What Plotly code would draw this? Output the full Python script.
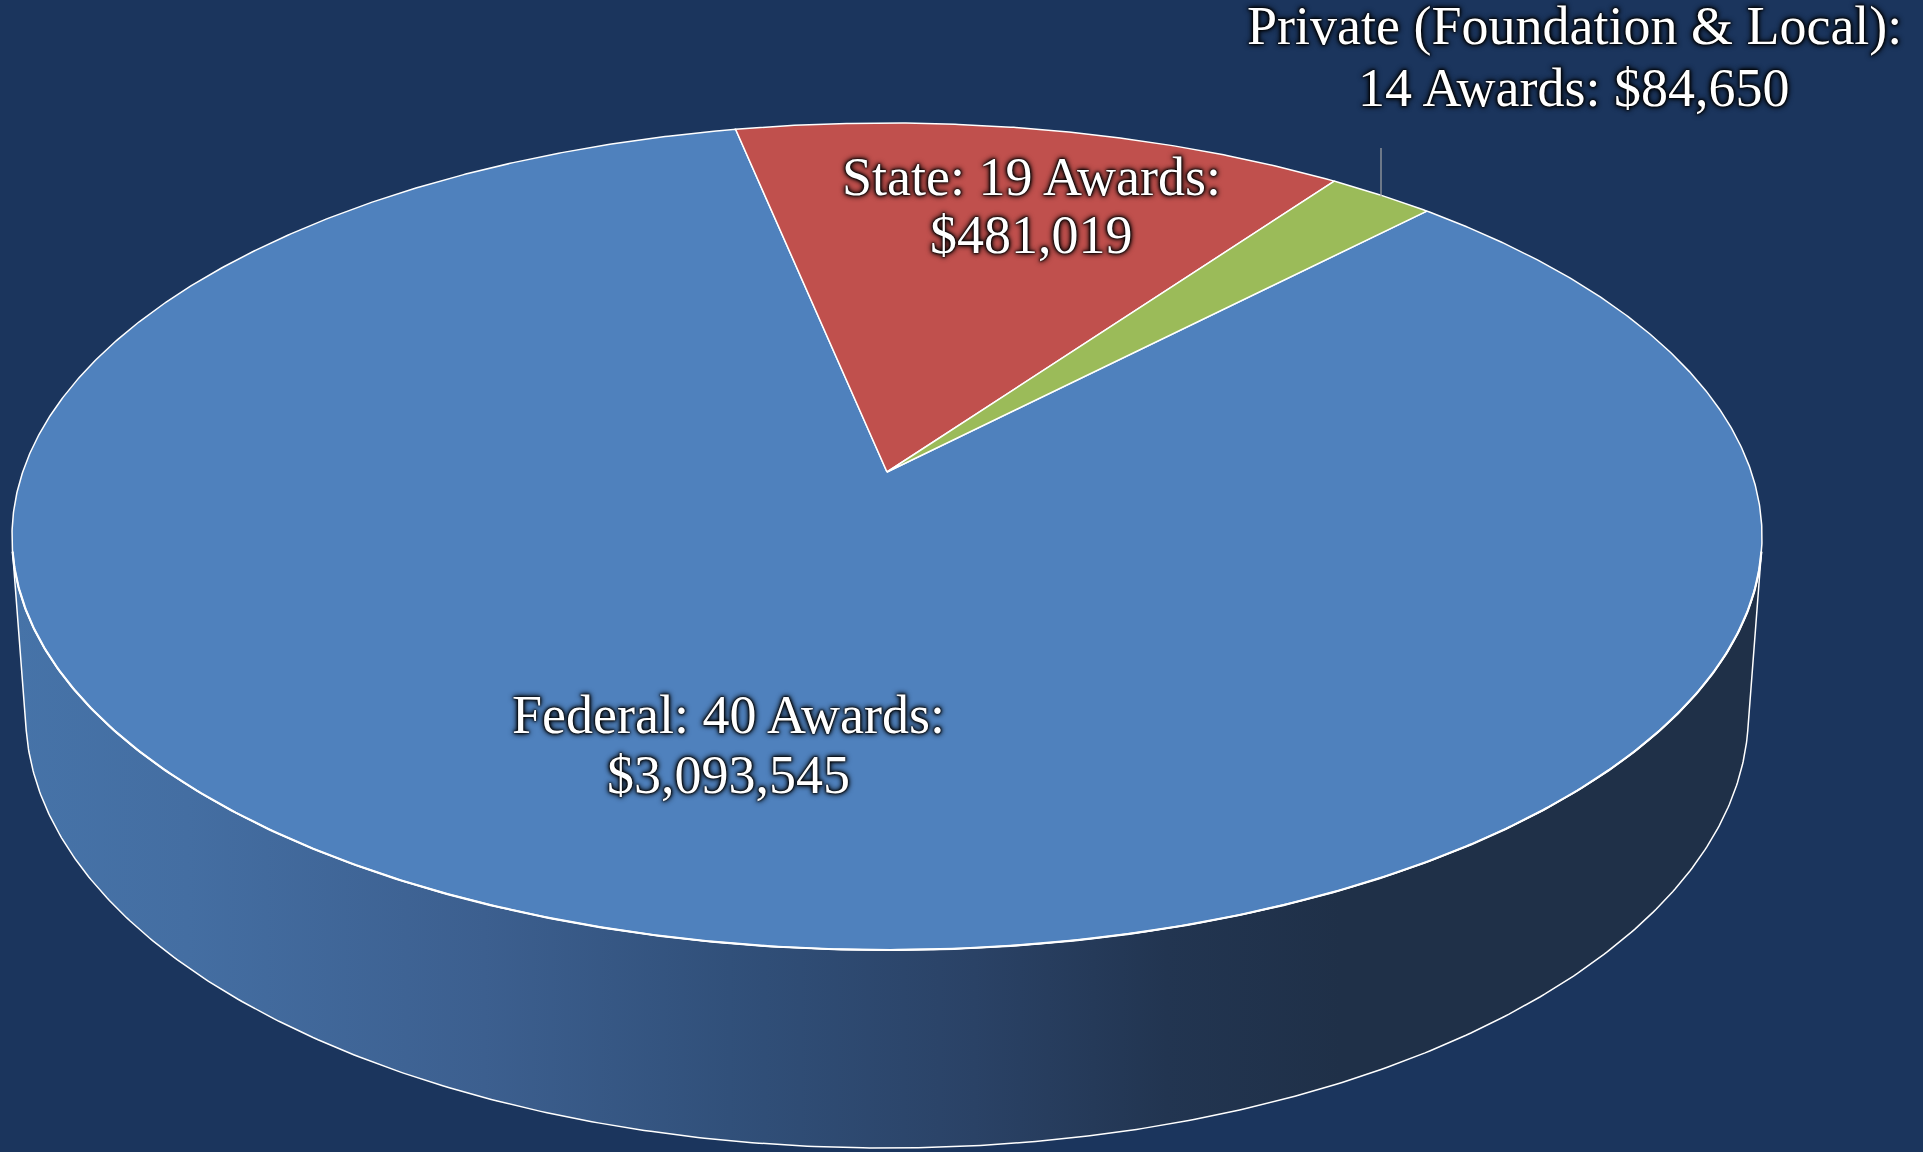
import numpy as np
import plotly.graph_objects as go

# data
names = ["Federal", "State", "Private (Foundation & Local)"]
awards = [40, 19, 14]
amounts = [3093545, 481019, 84650]
colors = ["#4f81bd", "#c0504d", "#9bbb59"]
first_slice_angle = 44  # degrees, clockwise from the back of the pie

# page / projection of the tilted pie (pixels of the 1923x1152 page)
W, H = 1923, 1152
cx, cy = 887, 472          # centre of the top face
A, B, k = 864.3, 329.8, -0.156
t, vy = 0.0154, 12000      # wall depth and vertical vanishing point
bg = "#1b355d"


def top(beta):
    u, v = np.sin(beta), -np.cos(beta)
    w = 1 + k * v
    return cx + A * u / w, (B * v + cy) / w


def bottom(beta):
    u, v = np.sin(beta), -np.cos(beta)
    w = 1 + k * v + t
    return cx + A * u / w, (B * v + cy + t * vy) / w


# silhouette of the side wall
b = np.linspace(0, 2 * np.pi, 7201)
xt, yt = top(b)
xb, yb = bottom(b)
s = np.gradient(xt) * (yb - yt) - np.gradient(yt) * (xb - xt)
vis = b[s < 0]
b_right, b_left = vis.min(), vis.max()

fig = go.Figure()

# side wall with horizontal shading
bw = np.linspace(b_right, b_left, 400)
wx_t, wy_t = top(bw)
wx_b, wy_b = bottom(bw[::-1])
fig.add_trace(go.Scatter(
    x=np.concatenate([wx_t, wx_b, wx_t[:1]]),
    y=np.concatenate([wy_t, wy_b, wy_t[:1]]),
    mode="lines", fill="toself",
    line=dict(color="white", width=1.5),
    fillgradient=dict(type="horizontal", colorscale=[
        [0.0, "#4673a8"], [0.10, "#446ea2"], [0.27, "#3c5f8f"],
        [0.41, "#31507a"], [0.55, "#2a4266"], [0.66, "#223551"],
        [0.76, "#1f3048"], [1.0, "#1f3048"]]),
    hoverinfo="skip"))

# top face slices
frac = np.array(amounts) / sum(amounts)
start = np.deg2rad(first_slice_angle)
for i, f in enumerate(frac):
    end = start + f * 2 * np.pi
    bs = np.linspace(start, end, max(int(f * 1440), 4))
    sx, sy = top(bs)
    fig.add_trace(go.Scatter(
        x=np.concatenate([[cx], sx, [cx]]),
        y=np.concatenate([[cy], sy, [cy]]),
        mode="lines", fill="toself", fillcolor=colors[i],
        line=dict(color="white", width=1.5),
        name=names[i], hoverinfo="skip"))
    start = end

# brighter rim on the front edge of the top face
fx, fy = top(bw)
fig.add_trace(go.Scatter(x=fx, y=fy, mode="lines",
                         line=dict(color="white", width=2.2), hoverinfo="skip"))

# labels
label_lines = [
    [f"{names[0]}: {awards[0]} Awards:", f"${amounts[0]:,}"],
    [f"{names[1]}: {awards[1]} Awards:", f"${amounts[1]:,}"],
    [f"{names[2]}:", f"{awards[2]} Awards: ${amounts[2]:,}"],
]
label_pos = [(728, 715, 775), (1031, 177, 235), (1574, 26, 88)]
lab_font = dict(family="Liberation Serif, Times New Roman, serif", size=54,
                color="white",
                shadow="0px 0px 6px #000000, 0px 0px 5px #000000, "
                       "0px 0px 3px #000000, 0px 0px 2px #000000")
for lines, (lx, ly1, ly2) in zip(label_lines, label_pos):
    for txt, ly in zip(lines, (ly1, ly2)):
        fig.add_annotation(x=lx, y=ly, text=txt, showarrow=False,
                           xanchor="center", yanchor="middle", font=lab_font)

# leader line for the small slice
fig.add_shape(type="line", x0=1381, x1=1381, y0=148, y1=197,
              line=dict(color="#a6a6a6", width=1.2))

fig.update_layout(
    width=W, height=H, margin=dict(l=0, r=0, t=0, b=0),
    paper_bgcolor=bg, plot_bgcolor=bg, showlegend=False, hovermode=False,
    xaxis=dict(range=[0, W], visible=False, fixedrange=True),
    yaxis=dict(range=[H, 0], visible=False, fixedrange=True),
)

fig.write_html("out.html", config={"displayModeBar": False},
               post_script="document.body.style.margin='0';")
